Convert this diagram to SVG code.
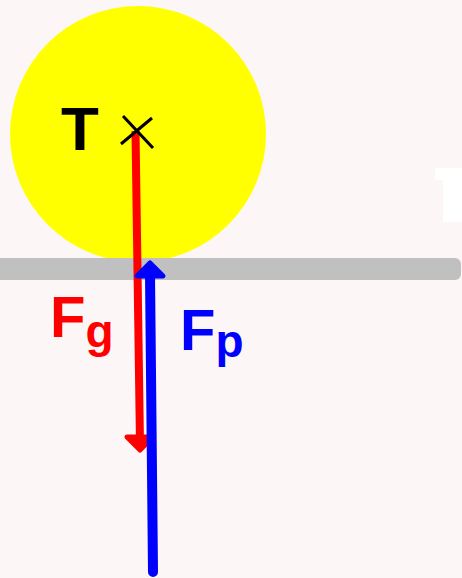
<svg xmlns="http://www.w3.org/2000/svg" width="462" height="578" viewBox="0 0 462 578">
<style>
.lbl{font-family:"Liberation Sans",Arial,sans-serif;font-weight:bold}
.red{fill:#f00}
.blue{fill:#00f}
</style>
<rect x="0" y="0" width="462" height="578" fill="#fdf6f6"/>
<g id="ghost">
<path d="M435,168 H462 V222 H443 V180 H435 Z" fill="#ffffff"/>
</g>
<g id="ball">
<circle cx="138" cy="134" r="128" fill="#ffff00"/>
</g>
<g id="surface">
<rect x="-10" y="258" width="471" height="22" rx="6" fill="#c0c0c0"/>
</g>
<g id="connectors">
<g id="gravity">
<line x1="135.5" y1="131" x2="140" y2="444" stroke="#f00" stroke-width="8"/>
<path d="M127,437 L140,450 L153,437 Z" fill="#f00" stroke="#f00" stroke-width="5" stroke-linejoin="round"/>
</g>
<g id="normal">
<line x1="153" y1="572" x2="150" y2="274" stroke="#00f" stroke-width="10" stroke-linecap="round"/>
<path d="M137,276 L150,263 L163,276 Z" fill="#00f" stroke="#00f" stroke-width="5" stroke-linejoin="round"/>
</g>
</g>
<g id="center">
<line x1="123" y1="116" x2="153" y2="148" stroke="#000" stroke-width="3"/>
<line x1="121" y1="144" x2="152" y2="118" stroke="#000" stroke-width="3"/>
</g>
<g id="label-T">
<text class="lbl" x="61" y="150" font-size="62" fill="#000">T</text>
</g>
<g id="label-Fg">
<text class="lbl red" x="50" y="337" font-size="58">F<tspan font-size="46" y="347">g</tspan></text>
</g>
<g id="label-Fp">
<text class="lbl blue" x="180" y="350" font-size="58">F<tspan font-size="46" y="357">p</tspan></text>
</g>
</svg>
